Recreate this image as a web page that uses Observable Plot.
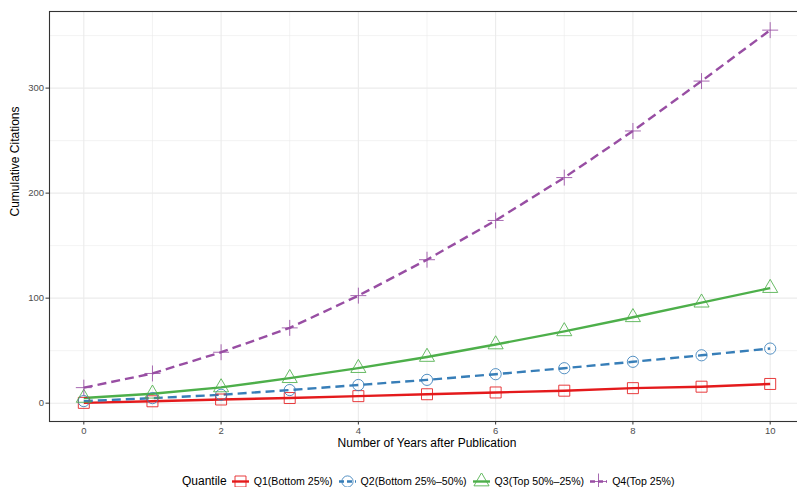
<!DOCTYPE html>
<html>
<head>
<meta charset="utf-8">
<script src="https://cdn.jsdelivr.net/npm/d3@7"></script>
<script src="https://cdn.jsdelivr.net/npm/@observablehq/plot@0.6"></script>
<style>
  html, body { margin: 0; padding: 0; background: #fff; overflow: hidden; }
  body { width: 797px; height: 487px; position: relative; font-family: "Liberation Sans", Arial, Helvetica, sans-serif; }
  #chart svg { max-width: none !important; display: block; }
  #chart svg [aria-label="x-axis tick label"], #chart svg [aria-label="y-axis tick label"] { fill: #4d4d4d; }
  #legend { position: absolute; left: 182px; top: 469px; height: 24px; display: flex; align-items: center; white-space: nowrap; }
  #legend .title { font-size: 12px; color: #000; }
  #legend .key { width: 17px; height: 17px; flex: none; }
  #legend .label { font-size: 10.6px; color: #000; margin-left: 5px; }
</style>
</head>
<body>
<div id="chart"></div>
<div id="legend"></div>
<script>
// Years since publication (x axis)
const years = [0, 1, 2, 3, 4, 5, 6, 7, 8, 9, 10];

// Mean cumulative citations per quantile group
const q1 = [0.3, 1.8, 3.5, 4.9, 6.7, 8.5, 10.2, 11.9, 14.3, 15.7, 18.3];
const q2 = [2.0, 4.8, 8.0, 12.5, 17.3, 22.2, 27.6, 33.3, 39.4, 45.6, 52.0];
const q3 = [5.0, 9.0, 15.0, 23.8, 33.4, 44.0, 55.9, 68.4, 81.8, 95.7, 109.6];
const q4 = [14.8, 28.3, 48.5, 71.7, 102.4, 136.6, 174.0, 214.8, 259.2, 306.7, 355.2];

const seriesNames = ["Q1(Bottom 25%)", "Q2(Bottom 25%\u201350%)", "Q3(Top 50%\u201325%)", "Q4(Top 25%)"];
const seriesValues = [q1, q2, q3, q4];

// Axis ticks
const xTicks = [0, 2, 4, 6, 8, 10];
const xMinor = [1, 3, 5, 7, 9];
const yTicks = [0, 100, 200, 300];
const yMinor = [50, 150, 250, 350];

// Appearance per series
const colors = ["#E41A1C", "#377EB8", "#4DAF4A", "#984EA3"];
const symbols = ["square", "circle", "triangle", "plus"];
const radii = [6.2, 5.6, 5.6, 5.2];
const dashes = [null, "9,5", null, "9,5"];

const rows = seriesNames.flatMap((name, i) =>
  years.map((year, j) => ({ name, year, value: seriesValues[i][j] }))
);

// ggplot-style 5% expansion of the data range
const allVals = rows.map(d => d.value);
const yMin = d3.min(allVals), yMax = d3.max(allVals);
const yPad = (yMax - yMin) * 0.05;
const xPad = (d3.max(years) - d3.min(years)) * 0.05;

const lineWidth = 2.4;

const marks = [
  Plot.ruleX(xMinor, { stroke: "#ebebeb", strokeWidth: 0.6 }),
  Plot.ruleY(yMinor, { stroke: "#ebebeb", strokeWidth: 0.6 }),
  Plot.ruleX(xTicks, { stroke: "#ebebeb", strokeWidth: 1.1 }),
  Plot.ruleY(yTicks, { stroke: "#ebebeb", strokeWidth: 1.1 })
];

seriesNames.forEach((name, i) => {
  const data = rows.filter(d => d.name === name);
  marks.push(Plot.line(data, {
    x: "year", y: "value", stroke: colors[i], strokeWidth: lineWidth,
    strokeDasharray: dashes[i] ?? undefined, strokeLinecap: "butt"
  }));
});
seriesNames.forEach((name, i) => {
  const data = rows.filter(d => d.name === name);
  marks.push(Plot.dot(data, {
    x: "year", y: "value", symbol: () => symbols[i], r: radii[i],
    stroke: colors[i], strokeWidth: 1, fill: "none", strokeOpacity: 0.85
  }));
});

marks.push(
  Plot.frame({ stroke: "#333", strokeWidth: 1.1 }),
  Plot.axisX(xTicks, { tickSize: 3.5, tickPadding: 2, fontSize: 9.5, stroke: "#333", label: null }),
  Plot.axisY(yTicks, { tickSize: 3.5, tickPadding: 2, fontSize: 9.5, stroke: "#333", label: null }),
  Plot.text(["Number of Years after Publication"], {
    frameAnchor: "bottom", dy: 25, fontSize: 12, fill: "#000", text: d => d
  }),
  Plot.text(["Cumulative Citations"], {
    frameAnchor: "left", dx: -34, rotate: -90, fontSize: 12, fill: "#000", text: d => d
  })
);

const chart = Plot.plot({
  width: 804,
  height: 462,
  marginLeft: 49,
  marginRight: 0,
  marginTop: 11,
  marginBottom: 41,
  style: { fontFamily: "'Liberation Sans', Arial, Helvetica, sans-serif", background: "#fff" },
  x: { domain: [d3.min(years) - xPad, d3.max(years) + xPad] },
  y: { domain: [yMin - yPad, yMax + yPad] },
  symbol: { type: "identity" },
  marks
});
document.getElementById("chart").append(chart);

// Legend: line segment plus symbol for each quantile
const legend = d3.select("#legend");
legend.append("span").attr("class", "title").text("Quantile");
seriesNames.forEach((name, i) => {
  const svg = legend.append("svg").attr("class", "key").attr("viewBox", "0 0 17 17")
    .style("margin-left", i === 0 ? "5px" : "6px");
  svg.append("line")
    .attr("x1", 0).attr("x2", 17).attr("y1", 8.5).attr("y2", 8.5)
    .attr("stroke", colors[i]).attr("stroke-width", lineWidth)
    .attr("stroke-dasharray", dashes[i] ? "5,3" : null);
  const symType = { square: d3.symbolSquare, circle: d3.symbolCircle, triangle: d3.symbolTriangle, plus: d3.symbolPlus }[symbols[i]];
  svg.append("path")
    .attr("transform", "translate(8.5,8.5)")
    .attr("d", d3.symbol(symType, Math.PI * radii[i] * radii[i])())
    .attr("fill", "none").attr("stroke", colors[i]).attr("stroke-width", 1).attr("stroke-opacity", 0.85);
  legend.append("span").attr("class", "label").text(name);
});
</script>
</body>
</html>
